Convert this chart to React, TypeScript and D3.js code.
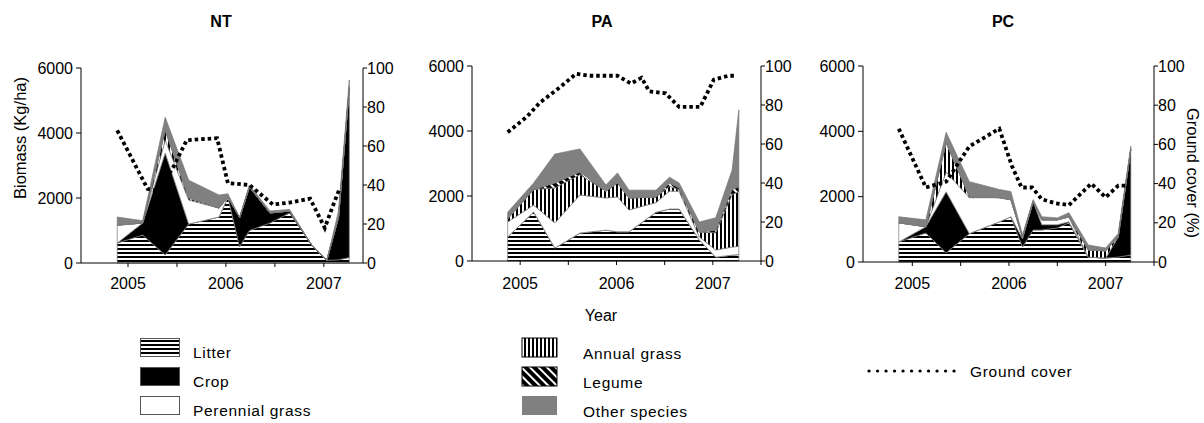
import React from 'react';
import * as d3 from 'd3';

// stack order, bottom to top
const keys = ['litter', 'crop', 'perennial', 'annual', 'legume', 'other'];

// NT
const ntDates = [2004.89, 2005.15, 2005.38, 2005.62, 2005.93, 2006.02, 2006.14, 2006.24, 2006.45, 2006.65, 2006.87, 2007.03, 2007.15, 2007.26];
const ntLitter = [615, 860, 250, 1200, 1415, 2030, 500, 1000, 1230, 1540, 580, 80, 100, 170];
const ntCrop = [0, 370, 3135, 0, 0, 0, 900, 1340, 310, 60, 0, 0, 1300, 5230];
const ntPerennial = [550, 0, 400, 740, 275, 0, 0, 0, 0, 0, 0, 0, 0, 0];
const ntAnnual = [0, 0, 300, 60, 0, 0, 0, 0, 0, 0, 0, 0, 0, 0];
const ntLegume = [0, 0, 0, 0, 0, 0, 0, 0, 0, 0, 0, 0, 0, 0];
const ntOther = [250, 70, 400, 550, 400, 100, 0, 60, 60, 50, 0, 0, 200, 230];
const ntGcDates = [2004.89, 2005.2, 2005.31, 2005.46, 2005.6, 2005.91, 2006.02, 2006.24, 2006.48, 2006.65, 2006.86, 2007.01, 2007.09, 2007.16];
const ntGc = [68, 38, 37, 49, 63, 64, 41, 40, 30, 31, 33, 18, 29, 38];

// PA
const paDates = [2004.87, 2005.14, 2005.36, 2005.62, 2005.89, 2006.01, 2006.13, 2006.41, 2006.55, 2006.65, 2006.86, 2007.03, 2007.2, 2007.27];
const paLitter = [740, 1510, 400, 860, 950, 900, 900, 1500, 1600, 1600, 650, 120, 180, 200];
const paCrop = [0, 0, 0, 0, 0, 0, 0, 0, 0, 0, 0, 0, 0, 0];
const paPerennial = [460, 210, 770, 1170, 990, 1070, 670, 300, 550, 550, 90, 220, 250, 250];
const paAnnual = [100, 480, 1080, 630, 210, 430, 370, 170, 150, 50, 150, 530, 1620, 1680];
const paLegume = [0, 0, 150, 80, 0, 0, 0, 0, 100, 50, 0, 80, 150, 150];
const paOther = [200, 200, 890, 710, 190, 310, 240, 210, 180, 150, 310, 380, 600, 2370];
const paGcDates = [2004.87, 2005.07, 2005.2, 2005.41, 2005.58, 2005.72, 2005.86, 2006.01, 2006.15, 2006.26, 2006.34, 2006.51, 2006.65, 2006.75, 2006.87, 2007.01, 2007.16, 2007.23];
const paGc = [66, 74, 81, 89, 96, 95, 95, 95, 91, 94, 87, 86, 79, 79, 79, 93, 95, 95];

// PC
const pcDates = [2004.86, 2005.14, 2005.35, 2005.59, 2005.9, 2006.02, 2006.14, 2006.25, 2006.34, 2006.5, 2006.62, 2006.82, 2007.0, 2007.13, 2007.26];
const pcLitter = [615, 890, 280, 870, 1230, 1385, 460, 980, 980, 1045, 1200, 150, 120, 150, 215];
const pcCrop = [0, 190, 1870, 0, 0, 0, 250, 870, 160, 95, 30, 0, 0, 620, 3235];
const pcPerennial = [585, 0, 600, 1100, 740, 520, 50, 0, 150, 150, 150, 0, 0, 0, 0];
const pcAnnual = [0, 0, 900, 30, 0, 0, 0, 0, 0, 0, 0, 220, 220, 0, 0];
const pcLegume = [0, 0, 0, 0, 0, 0, 0, 0, 0, 0, 0, 0, 0, 0, 0];
const pcOther = [185, 210, 320, 460, 250, 250, 70, 60, 95, 60, 130, 150, 90, 100, 100];
const pcGcDates = [2004.86, 2005.14, 2005.35, 2005.59, 2005.9, 2006.03, 2006.13, 2006.24, 2006.34, 2006.48, 2006.62, 2006.85, 2007.0, 2007.13, 2007.23];
const pcGc = [68, 38, 41, 59, 68, 49, 38, 38, 32, 30, 29, 40, 33, 39, 39];

const biomassTicks = [0, 2000, 4000, 6000];
const coverTicks = [0, 20, 40, 60, 80, 100];
const yearLabels = [2005, 2006, 2007];
const legendLeft = ['Litter', 'Crop', 'Perennial grass'];
const legendMid = ['Annual grass', 'Legume', 'Other species'];

const fills: Record<string, string> = {
  litter: 'url(#pLitter)', crop: '#000', perennial: '#fff',
  annual: 'url(#pAnnual)', legume: 'url(#pLegume)', other: '#808080',
};

const FONT = '"Liberation Sans", Arial, sans-serif';
const TICK = 16;
const LEG = 15.5;

const panels = [
  { title: 'NT', dates: ntDates, s: { litter: ntLitter, crop: ntCrop, perennial: ntPerennial, annual: ntAnnual, legume: ntLegume, other: ntOther }, gcDates: ntGcDates, gc: ntGc,
    left: 81, right: 363, top: 68, bottom: 263, x0: 2004.52, x1: 2007.4, cx: 221 },
  { title: 'PA', dates: paDates, s: { litter: paLitter, crop: paCrop, perennial: paPerennial, annual: paAnnual, legume: paLegume, other: paOther }, gcDates: paGcDates, gc: paGc,
    left: 472, right: 761, top: 66, bottom: 261, x0: 2004.5, x1: 2007.5, cx: 602 },
  { title: 'PC', dates: pcDates, s: { litter: pcLitter, crop: pcCrop, perennial: pcPerennial, annual: pcAnnual, legume: pcLegume, other: pcOther }, gcDates: pcGcDates, gc: pcGc,
    left: 863, right: 1154, top: 66, bottom: 262, x0: 2004.49, x1: 2007.5, cx: 1003 },
];

function Panel({ p }: { p: any }) {
  const x = d3.scaleLinear().domain([p.x0, p.x1]).range([p.left, p.right]);
  const y = d3.scaleLinear().domain([0, 6000]).range([p.bottom, p.top]);
  const yc = d3.scaleLinear().domain([0, 100]).range([p.bottom, p.top]);
  const rows = p.dates.map((d: number, i: number) => {
    const r: any = { date: d };
    keys.forEach(k => { r[k] = p.s[k][i]; });
    return r;
  });
  const series = d3.stack().keys(keys)(rows);
  const area = d3.area<any>().x(d => x(d.data.date)).y0(d => y(d[0])).y1(d => y(d[1]));
  const gcLine = d3.line<number>().x((d, i) => x(p.gcDates[i])).y(d => yc(d));
  const halfTicks = d3.range(2005, p.x1 + 0.01, 0.5);
  return (
    <g>
      <text x={p.cx} y={27} textAnchor="middle" fontWeight="bold" fontSize={16}>{p.title}</text>
      {series.map(s => (
        <path key={s.key} d={area(s as any) || ''} fill={fills[s.key]} stroke="#777" strokeWidth={0.7} />
      ))}
      {/* left axis */}
      <line x1={p.left} x2={p.left} y1={p.top} y2={p.bottom} stroke="#000" />
      {biomassTicks.map(t => (
        <g key={t}>
          <line x1={p.left - 5} x2={p.left} y1={y(t)} y2={y(t)} stroke="#000" />
          <text x={p.left - 8} y={y(t)} dy="0.35em" textAnchor="end" fontSize={TICK}>{t}</text>
        </g>
      ))}
      {/* right axis */}
      <line x1={p.right} x2={p.right} y1={p.top} y2={p.bottom} stroke="#000" />
      {coverTicks.map(t => (
        <g key={t}>
          <line x1={p.right} x2={p.right + 4} y1={yc(t)} y2={yc(t)} stroke="#000" />
          <text x={p.right + 4} y={yc(t)} dy="0.35em" textAnchor="start" fontSize={TICK}>{t}</text>
        </g>
      ))}
      {/* bottom axis */}
      <line x1={p.left} x2={p.right} y1={p.bottom} y2={p.bottom} stroke="#000" />
      {halfTicks.map(t => (
        <line key={t} x1={x(t)} x2={x(t)} y1={p.bottom} y2={p.bottom + 4} stroke="#000" />
      ))}
      {yearLabels.map(t => (
        <text key={t} x={x(t)} y={289} textAnchor="middle" fontSize={TICK}>{t}</text>
      ))}
      <path d={gcLine(p.gc) || ''} fill="none" stroke="#000" strokeWidth={3.8} strokeDasharray="3.5 3" />
    </g>
  );
}

export default function App() {
  return (
    <svg width={1204} height={423} style={{ position: 'absolute', left: 0, top: 0, background: '#fff' }}
      fontFamily={FONT}>
      <defs>
        <pattern id="pLitter" patternUnits="userSpaceOnUse" width={8} height={4}>
          <rect width={8} height={4} fill="#fff" />
          <rect y={0} width={8} height={2} fill="#000" />
        </pattern>
        <pattern id="pAnnual" patternUnits="userSpaceOnUse" width={4} height={8}>
          <rect width={4} height={8} fill="#fff" />
          <rect x={0} width={2} height={8} fill="#000" />
        </pattern>
        <pattern id="pLegume" patternUnits="userSpaceOnUse" width={6} height={6} patternTransform="rotate(-45)">
          <rect width={6} height={6} fill="#000" />
          <rect x={0} width={2} height={6} fill="#fff" />
        </pattern>
      </defs>
      <rect width={1204} height={423} fill="#fff" />
      {panels.map(p => <Panel key={p.title} p={p} />)}
      <text transform="translate(26,138) rotate(-90)" textAnchor="middle" fontSize={16.5}>Biomass (Kg/ha)</text>
      <text transform="translate(1187,173) rotate(90)" textAnchor="middle" fontSize={16.5}>Ground cover (%)</text>
      <text x={601} y={321} textAnchor="middle" fontSize={TICK}>Year</text>
      {legendLeft.map((l, i) => (
        <g key={l}>
          <rect x={140.5} y={338.5 + i * 29} width={39} height={18} fill={fills[keys[i]]} stroke="#555" strokeWidth={1} />
          <text x={193} y={358 + i * 29} fontSize={LEG} letterSpacing={0.7}>{l}</text>
        </g>
      ))}
      {legendMid.map((l, i) => (
        <g key={l}>
          <rect x={522} y={338 + i * 29} width={35} height={19} fill={fills[keys[i + 3]]} stroke={i === 2 ? 'none' : '#000'} strokeWidth={1} />
          <text x={583} y={359 + i * 29} fontSize={LEG} letterSpacing={0.7}>{l}</text>
        </g>
      ))}
      <line x1={869} x2={962} y1={371} y2={371} stroke="#000" strokeWidth={3.2} strokeLinecap="round" strokeDasharray="0.1 8.4" />
      <text x={970} y={377} fontSize={LEG} letterSpacing={0.7}>Ground cover</text>
    </svg>
  );
}
